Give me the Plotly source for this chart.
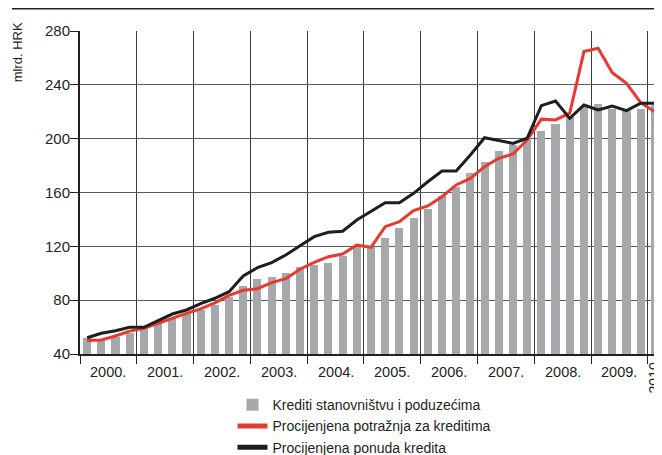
import plotly.graph_objects as go

years = ["2000.", "2001.", "2002.", "2003.", "2004.", "2005.", "2006.", "2007.", "2008.", "2009."]
last_label = "2010."
quarters = list(range(41))  # 2000Q1 .. 2010Q1

krediti = [51.7, 50.5, 52.9, 55.4, 59.1, 62.8, 66.5, 69.7, 72.4, 76.4,
           82.6, 90.5, 95.7, 97.0, 100.0, 104.4, 106.2, 107.9, 113.0, 119.5,
           119.3, 126.4, 133.9, 141.3, 147.7, 157.5, 164.3, 174.7, 182.9, 191.1,
           195.3, 200.3, 205.9, 210.9, 216.3, 223.3, 225.8, 221.8, 220.8, 222.0, 225.0]

potraznja = [50.0, 50.4, 53.4, 57.0, 59.1, 62.8, 67.0, 70.2, 73.5, 78.0,
             83.5, 87.3, 88.5, 93.0, 96.0, 103.0, 108.0, 112.3, 114.3, 121.0,
             119.3, 134.6, 138.3, 146.5, 150.0, 156.9, 165.6, 170.5, 179.2, 185.4,
             188.6, 199.0, 214.5, 213.9, 218.9, 264.7, 267.2, 249.0, 241.1, 226.7, 220.0]

ponuda = [52.1, 55.4, 57.3, 59.8, 59.8, 64.8, 69.7, 72.7, 77.5, 81.4,
          86.3, 98.0, 104.2, 107.9, 113.6, 120.5, 127.2, 130.4, 131.2, 139.6,
          145.8, 152.4, 152.4, 159.4, 168.0, 176.0, 176.0, 187.9, 200.7, 198.5,
          196.5, 200.3, 224.5, 228.0, 215.1, 225.0, 221.3, 224.3, 220.8, 226.3, 226.3]

names = ["Krediti stanovništvu i poduzećima",
         "Procijenjena potražnja za kreditima",
         "Procijenjena ponuda kredita"]

FONT = "Liberation Sans, Arial, sans-serif"
TXT = "#231f20"

fig = go.Figure()
fig.add_trace(go.Bar(x=quarters, y=krediti, name=names[0], width=0.57,
                     marker=dict(color="#a7a8ab", line=dict(width=0))))
fig.add_trace(go.Scatter(x=quarters, y=potraznja, name=names[1], mode="lines",
                         line=dict(color="#e8392e", width=3)))
fig.add_trace(go.Scatter(x=quarters, y=ponuda, name=names[2], mode="lines",
                         line=dict(color="#1f1d1e", width=3)))

boundaries = [-0.5 + 4 * k for k in range(11)]

annotations = []
for k, lab in enumerate(years):
    annotations.append(dict(x=1.5 + 4 * k, y=-0.056, xref="x", yref="paper",
                            text=lab, showarrow=False, xanchor="center", yanchor="middle",
                            font=dict(family=FONT, size=14.5, color=TXT)))
annotations.append(dict(x=39.9, y=-0.068, xref="x", yref="paper", text=last_label,
                        textangle=-90, showarrow=False, xanchor="center", yanchor="middle",
                        borderpad=0,
                        font=dict(family=FONT, size=14, color=TXT)))
annotations.append(dict(x=-0.107, y=0.933, xref="paper", yref="paper", text="mlrd. HRK",
                        textangle=-90, showarrow=False, xanchor="center", yanchor="middle",
                        font=dict(family=FONT, size=13, color=TXT)))

# the page body adds an 8px offset; plot area placed to match the reference
fig.update_layout(
    width=662, height=455,
    margin=dict(l=72, r=8, t=23, b=109, autoexpand=False),
    paper_bgcolor="white", plot_bgcolor="white",
    font=dict(family=FONT, size=15, color=TXT),
    bargap=0,
    showlegend=True,
    legend=dict(x=0.262, y=-0.109, xanchor="left", yanchor="top",
                font=dict(family=FONT, size=14, color=TXT),
                tracegroupgap=0, itemsizing="constant", bgcolor="rgba(0,0,0,0)"),
    xaxis=dict(range=[-0.5, 40.5], tickmode="array", tickvals=boundaries,
               ticktext=[""] * len(boundaries), ticks="outside", ticklen=8,
               tickcolor=TXT, tickwidth=1,
               showgrid=True, gridcolor="#3a3a3a", gridwidth=1,
               showline=True, linecolor=TXT, linewidth=2, zeroline=False),
    yaxis=dict(range=[40, 280], tickmode="array", tickvals=[40, 80, 120, 160, 200, 240, 280],
               ticks="outside", ticklen=8, tickcolor=TXT, tickwidth=1,
               ticklabelstandoff=-3,
               showgrid=True, gridcolor="#5a5a5a", gridwidth=1,
               showline=True, linecolor=TXT, linewidth=2, zeroline=False,
               tickfont=dict(family=FONT, size=15, color=TXT)),
    annotations=annotations,
    shapes=[dict(type="line", xref="paper", yref="paper", x0=-0.117, x1=1.0,
                 y0=1.069, y1=1.069, line=dict(color=TXT, width=1.5))],
)

fig.write_html("out.html")
